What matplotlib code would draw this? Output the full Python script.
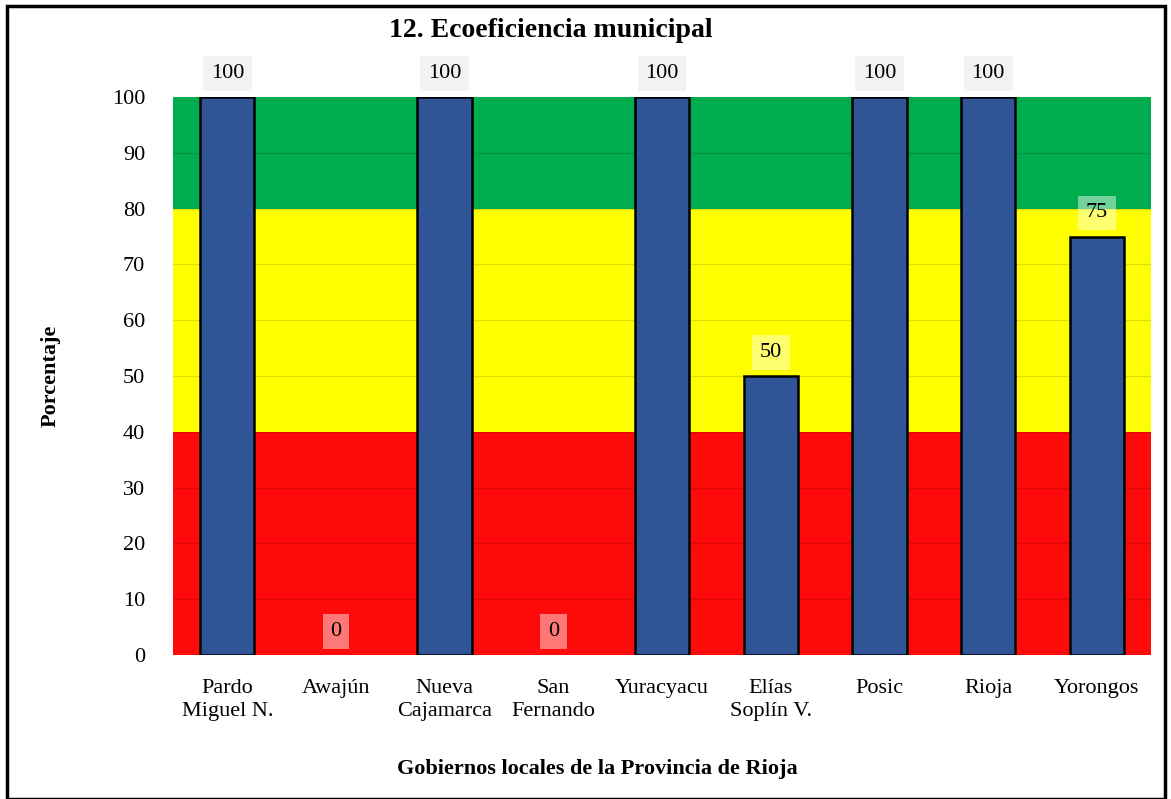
import matplotlib.pyplot as plt
from matplotlib.patches import Rectangle

plt.rcParams['font.family'] = ['Liberation Serif', 'DejaVu Serif']

# Data
municipios = ["Pardo\nMiguel N.", "Awajún", "Nueva\nCajamarca", "San\nFernando",
              "Yuracyacu", "Elías\nSoplín V.", "Posic", "Rioja", "Yorongos"]
valores = [100, 0, 100, 0, 100, 50, 100, 100, 75]
yticks = list(range(0, 101, 10))

# Bands: (low, high, color)
bandas = [(0, 40, "#fe0a0a"), (40, 80, "#ffff00"), (80, 100, "#00ad4e")]

fig = plt.figure(figsize=(11.71, 7.99), dpi=100)
ax = fig.add_axes([0.1477, 0.1802, 0.8353, 0.6984])

for lo, hi, col in bandas:
    ax.axhspan(lo, hi, color=col, zorder=0, lw=0)
for y in yticks[1:-1]:
    ax.axhline(y, color="black", alpha=0.12, lw=1, zorder=1)

x = range(len(municipios))
lws = [1.8 if v > 0 else 0 for v in valores]
ax.bar(x, valores, width=0.5, color="#2f5597", edgecolor="black", linewidth=lws, zorder=2)

for i, v in enumerate(valores):
    if v >= 100:
        bg, a = "#f2f2f2", 1.0
    else:
        bg, a = "white", 0.45
    ax.annotate(str(v), (i, v), xytext=(0, 17), textcoords="offset points",
                ha="center", va="center", fontsize=16, zorder=4, annotation_clip=False,
                bbox=dict(boxstyle="square,pad=0.35", fc=bg, ec="none", alpha=a))

ax.set_xlim(-0.5, len(municipios) - 0.5)
ax.set_ylim(0, 100)
ax.set_yticks(yticks)
ax.set_xticks(list(x))
ax.set_xticklabels(municipios, fontsize=16, linespacing=1.3)
ax.tick_params(axis="y", labelsize=16, length=0, pad=20)
ax.tick_params(axis="x", length=0, pad=17)
for s in ax.spines.values():
    s.set_visible(False)

fig.text(0.47, 0.962, "12. Ecoeficiencia municipal", ha="center", va="center",
         fontsize=20, fontweight="bold")
fig.text(0.043, 0.53, "Porcentaje", rotation=90, ha="center", va="center",
         fontsize=16, fontweight="bold")
fig.text(0.51, 0.038, "Gobiernos locales de la Provincia de Rioja", ha="center", va="center",
         fontsize=16, fontweight="bold")

fig.patches.append(Rectangle((0.006, 0.0), 0.989, 0.993, transform=fig.transFigure,
                             fill=False, ec="black", lw=2.5))

fig.savefig("out.png", dpi=100)
